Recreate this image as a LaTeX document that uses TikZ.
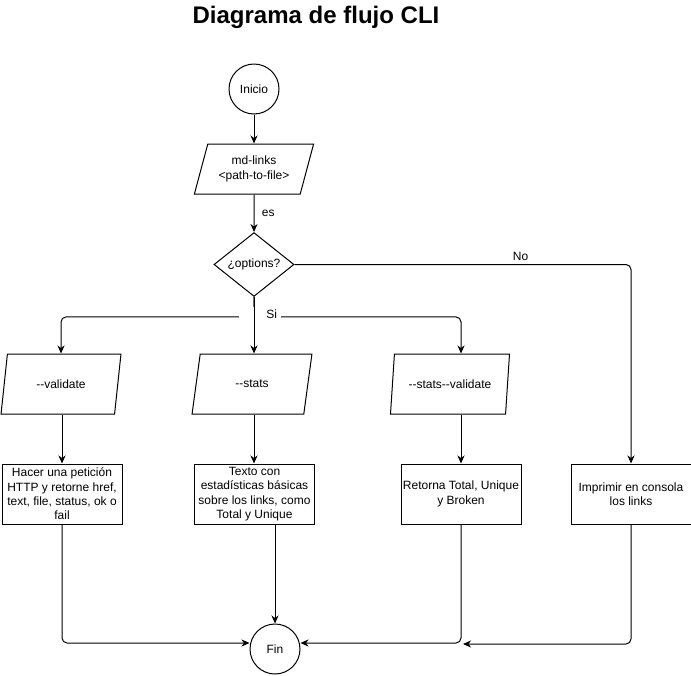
\documentclass[tikz,border=0pt]{standalone}
\usepackage{fontspec}
\setmainfont{Liberation Sans}[Ligatures=TeXOff]
\usetikzlibrary{shapes.geometric,arrows.meta}

\tikzset{
  term/.style={draw,circle,minimum size=50pt,inner sep=0pt},
  caja/.style={draw,rectangle,minimum width=120pt,minimum height=60pt,inner sep=0pt,align=center},
  datos/.style={draw,trapezium,trapezium left angle=71.57,trapezium right angle=108.43,
    trapezium stretches=true,minimum width=120pt,minimum height=60pt,inner sep=0pt,align=center},
  decision/.style={draw,diamond,minimum width=80pt,minimum height=60pt,inner sep=0pt},
  flecha/.style={-{Stealth[length=8pt,width=7pt,inset=2.5pt]},rounded corners=5pt},
}

\begin{document}
\begin{tikzpicture}[x=1pt,y=-1pt,line width=1pt,font=\fontsize{12}{14.4}\selectfont]
\useasboundingbox (0,0) rectangle (691,675);

%title
\node (titulo) at (316,17) {\fontsize{24}{28}\selectfont\bfseries Diagrama de flujo CLI};

%start and input
\node[term] (ini) at (254,89) {Inicio};
\node[datos,minimum height=50pt,trapezium left angle=68.2,trapezium right angle=111.8] (md) at (254,169) {md-links\\<path-to-file>};
\node[decision] (opt) at (254,264.5) {¿options?};

%options
\node[datos] (val) at (61,384) {--validate};
\node[datos] (sta) at (252,384) {--stats};
\node[datos] (sv) at (450,384) {--stats--validate};

%results
\node[caja] (hac) at (62,494) {Hacer una petición\\HTTP y retorne href,\\text, file, status, ok o\\fail};
\node[caja] (tex) at (254.5,494) {Texto con\\estadísticas básicas\\sobre los links, como\\Total y Unique};
\node[caja] (ret) at (461,494) {Retorna Total, Unique\\y Broken};
\node[caja] (imp) at (631,494) {Imprimir en consola\\los links};

%end
\node[term] (fin) at (275,649) {Fin};
\coordinate (union) at (463,644);

%top arrows
\draw[flecha] (ini) -- (md);
\draw[flecha] (md) -- node[right=4pt]{es} (opt);
\draw[flecha] (opt.east) -| node[pos=0.336,above]{No} (imp.north);

%branches
\draw[flecha] (opt.south) -- ++(0,20) -| (val.north);
\draw[flecha] (opt.south) -- ++(0,20) -| (sv.north -| ret.north);
\node[fill=white,inner sep=1pt,minimum width=42pt,minimum height=14pt,text width=34pt,align=right] (si) at (260,314) {Si};
\draw[flecha] (opt.south) -- (opt.south |- sta.north);

%down arrows
\draw[flecha] (val.south -| hac.north) -- (hac.north);
\draw[flecha] (sta.south -| opt.south) -- (opt.south |- tex.north);
\draw[flecha] (sv.south -| ret.north) -- (ret.north);

%to fin
\draw[flecha] (hac.south) |- ([yshift=6pt]fin.west);
\draw[flecha] (tex.south -| fin.north) -- (fin.north);
\draw[flecha] (ret.south) |- ([yshift=6pt]fin.east);
\draw[flecha] (imp.south) |- (union);
\end{tikzpicture}
\end{document}
